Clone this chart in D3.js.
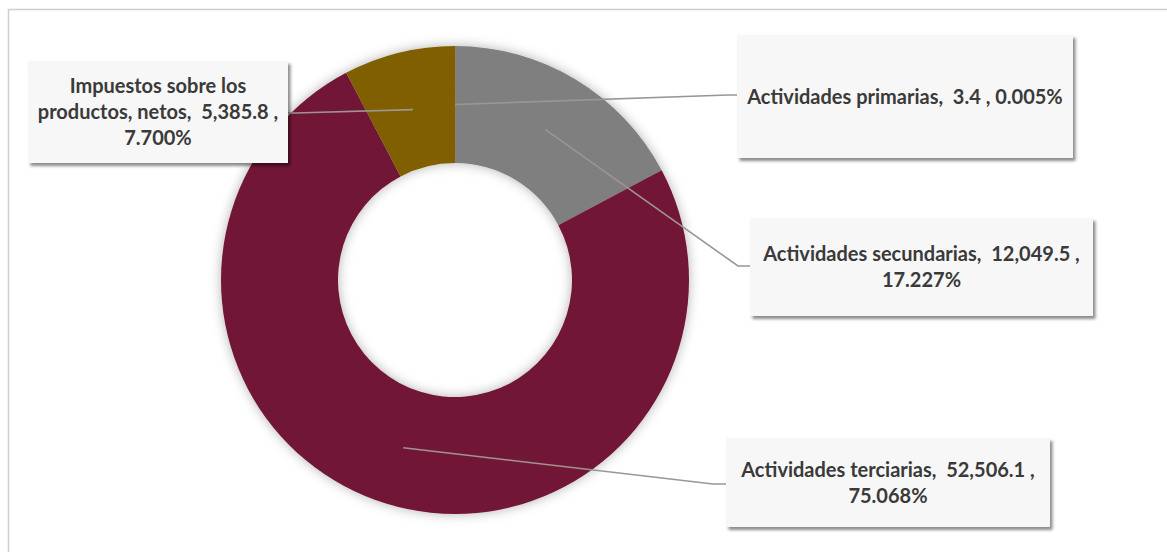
<!DOCTYPE html>
<html>
<head>
<meta charset="utf-8">
<script src="https://cdn.jsdelivr.net/npm/d3@7"></script>
<style>
  body { margin: 0; background: #fff; }
  svg { display: block; }
  text { white-space: pre; }
</style>
</head>
<body>
<div id="vis"></div>
<script>
var width = 1167;
var height = 552;

// datos (millones), en el orden del anillo desde las 12 en punto
var sectores = ["Actividades primarias", "Actividades secundarias", "Actividades terciarias", "Impuestos sobre los productos, netos"];
var valores = [3.4, 12049.5, 52506.1, 5385.8];
var porcentajes = ["0.005%", "17.227%", "75.068%", "7.700%"];
var colores = ["#5a5a5a", "#7f7f7f", "#721537", "#7f5f00"];

// etiquetas: texto por renglón
var etiquetas = [
  ["Actividades primarias,  3.4 , 0.005%"],
  ["Actividades secundarias,  12,049.5 ,", "17.227%"],
  ["Actividades terciarias,  52,506.1 ,", "75.068%"],
  ["Impuestos sobre los", "productos, netos,  5,385.8 ,", "7.700%"]
];

// cajas de etiqueta (layout) y codo de la línea guía
var cajas = [
  {x: 737, y: 35, w: 336, h: 123, codo: [728, 95], fin: [737, 95]},
  {x: 750, y: 218, w: 343, h: 98, codo: [738, 266], fin: [750, 266]},
  {x: 726, y: 438, w: 324, h: 89, codo: [713, 484], fin: [726, 484]},
  {x: 28, y: 61, w: 260, h: 102, codo: [295, 113], fin: [288, 113]}
];

var cx = 455, cy = 280, rOut = 234, rIn = 117;

var svg = d3.select("#vis")
  .append("svg")
  .attr("width", width)
  .attr("height", height);

var defs = svg.append("defs");
defs.append("filter")
  .attr("id", "sombraAnillo")
  .attr("x", "-20%").attr("y", "-20%").attr("width", "140%").attr("height", "140%")
  .append("feDropShadow")
  .attr("dx", 0).attr("dy", 0)
  .attr("stdDeviation", 6)
  .attr("flood-color", "#000")
  .attr("flood-opacity", 0.3);

defs.append("filter")
  .attr("id", "sombraCaja")
  .attr("x", "-10%").attr("y", "-10%").attr("width", "120%").attr("height", "130%")
  .append("feDropShadow")
  .attr("dx", 2.5).attr("dy", 3)
  .attr("stdDeviation", 1.8)
  .attr("flood-color", "#000")
  .attr("flood-opacity", 0.45);

// marco
svg.append("rect")
  .attr("x", 8.5).attr("y", 9.5)
  .attr("width", width + 20).attr("height", height + 20)
  .attr("fill", "none")
  .attr("stroke", "#d2cecb")
  .attr("stroke-width", 1.5);

var pie = d3.pie().sort(null).value(d => d);
var arcs = pie(valores);

var arc = d3.arc().innerRadius(rIn).outerRadius(rOut);
var arcMedio = d3.arc().innerRadius((rIn + rOut) / 2).outerRadius((rIn + rOut) / 2);

var g = svg.append("g")
  .attr("transform", `translate(${cx},${cy})`);

g.append("g")
  .attr("filter", "url(#sombraAnillo)")
  .selectAll("path")
  .data(arcs)
  .enter()
  .append("path")
  .attr("d", arc)
  .attr("fill", (d, i) => colores[i]);

// líneas guía
svg.append("g")
  .attr("fill", "none")
  .attr("stroke", "#9d958f")
  .attr("stroke-width", 1.6)
  .selectAll("polyline")
  .data(arcs)
  .enter()
  .append("polyline")
  .attr("points", (d, i) => {
    var c = arcMedio.centroid(d);
    var b = cajas[i];
    return [[cx + c[0], cy + c[1]], b.codo, b.fin].map(p => p.join(",")).join(" ");
  });

// cajas de etiqueta
var lab = svg.append("g")
  .selectAll("g")
  .data(arcs)
  .enter()
  .append("g");

lab.append("rect")
  .attr("x", (d, i) => cajas[i].x)
  .attr("y", (d, i) => cajas[i].y)
  .attr("width", (d, i) => cajas[i].w)
  .attr("height", (d, i) => cajas[i].h)
  .attr("fill", "#f7f7f7")
  .attr("filter", "url(#sombraCaja)");

var lineH = 26;
lab.append("text")
  .attr("font-family", "Lato, 'Open Sans', sans-serif")
  .attr("font-weight", "bold")
  .attr("font-size", "20px")
  .attr("fill", "#3a3a3a")
  .attr("text-anchor", "middle")
  .each(function(d, i) {
    var b = cajas[i];
    var lines = etiquetas[i];
    var y0 = b.y + b.h / 2 - (lines.length - 1) * lineH / 2;
    d3.select(this).selectAll("tspan")
      .data(lines)
      .enter()
      .append("tspan")
      .attr("x", b.x + b.w / 2)
      .attr("y", (t, j) => y0 + j * lineH)
      .attr("dy", "0.35em")
      .text(t => t);
  });
</script>
</body>
</html>
